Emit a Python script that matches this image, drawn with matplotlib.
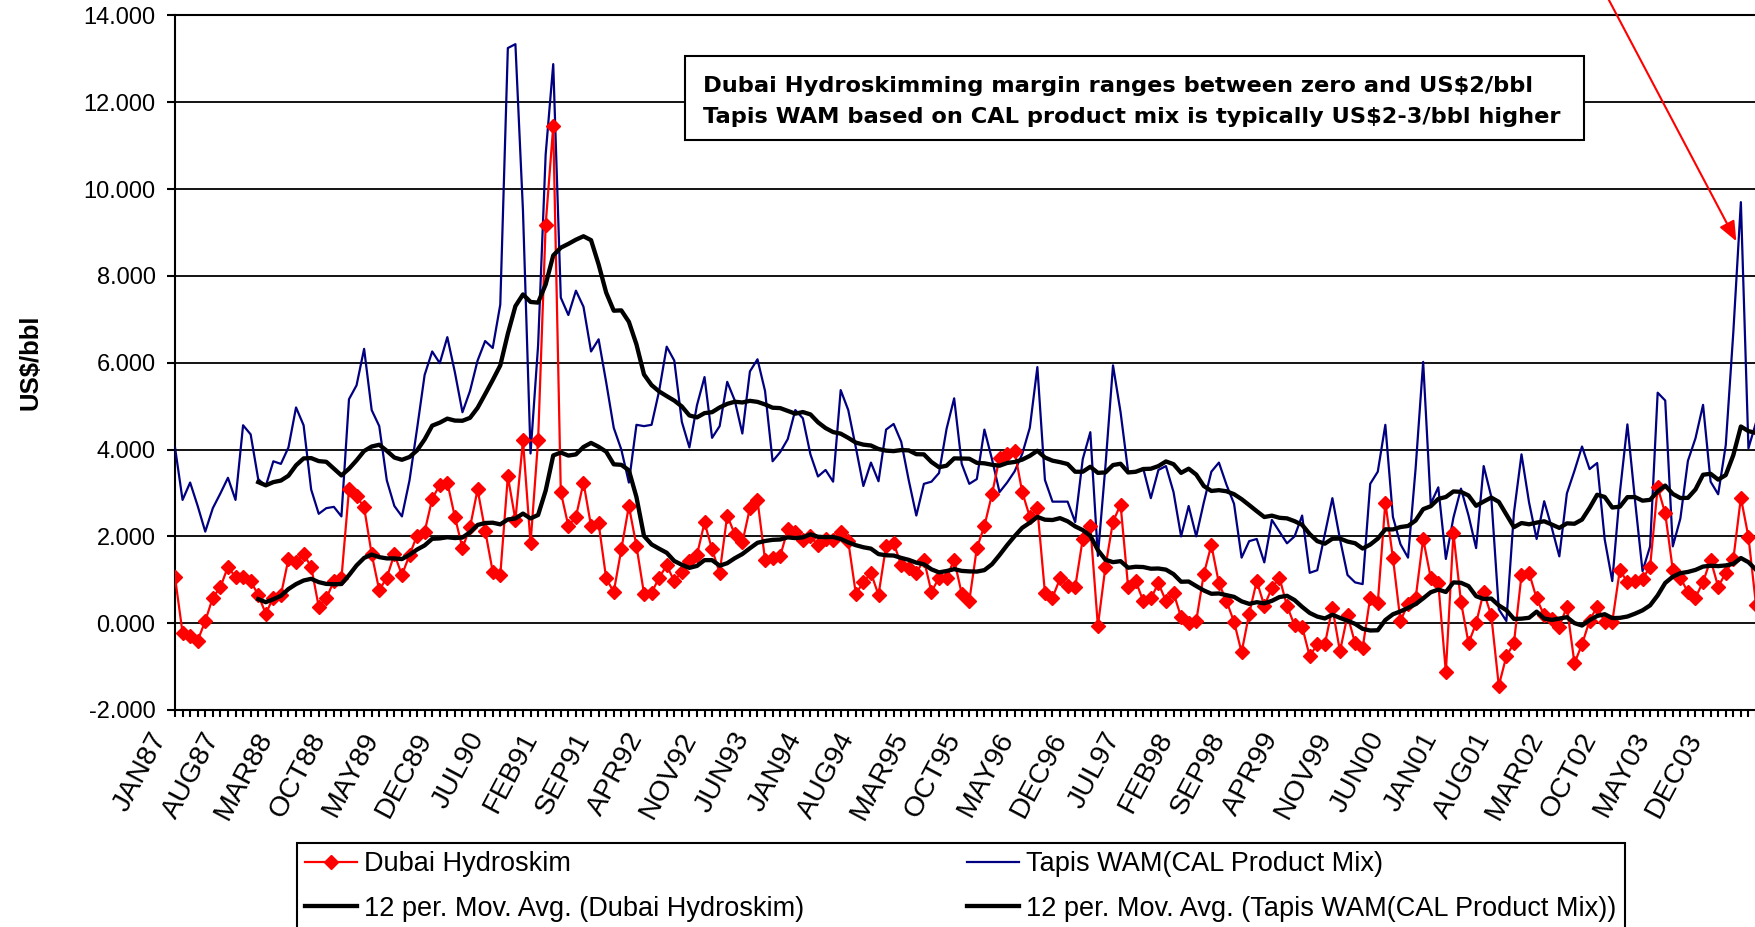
import numpy as np
import pandas as pd
import matplotlib.pyplot as plt
from matplotlib.patches import Rectangle
from matplotlib.ticker import FormatStrFormatter
from matplotlib.transforms import ScaledTranslation

plt.rcParams['font.family'] = ['Liberation Sans', 'DejaVu Sans']

# monthly margins, US$/bbl, starting JAN87
dubai = [1.06, -0.22, -0.30, -0.40, 0.05, 0.59, 0.83, 1.30, 1.06, 1.06,
         0.97, 0.65, 0.22, 0.59, 0.65, 1.48, 1.40, 1.59, 1.30, 0.38,
         0.57, 0.97, 1.03, 3.08, 2.92, 2.67, 1.59, 0.76, 1.05, 1.59,
         1.11, 1.57, 2.02, 2.11, 2.86, 3.19, 3.24, 2.45, 1.73, 2.21,
         3.08, 2.13, 1.19, 1.11, 3.38, 2.38, 4.21, 1.84, 4.21, 9.18,
         11.45, 3.02, 2.24, 2.45, 3.24, 2.24, 2.30, 1.03, 0.72, 1.70,
         2.70, 1.78, 0.68, 0.70, 1.05, 1.33, 0.97, 1.19, 1.44, 1.57,
         2.32, 1.70, 1.16, 2.48, 2.05, 1.86, 2.65, 2.84, 1.46, 1.51,
         1.54, 2.16, 2.11, 1.91, 2.00, 1.80, 1.94, 1.91, 2.11, 1.89,
         0.68, 0.94, 1.16, 0.65, 1.78, 1.84, 1.35, 1.26, 1.16, 1.46,
         0.72, 1.05, 1.05, 1.46, 0.68, 0.51, 1.73, 2.24, 2.97, 3.81,
         3.89, 3.96, 3.02, 2.45, 2.65, 0.70, 0.59, 1.03, 0.86, 0.83,
         1.94, 2.24, -0.06, 1.30, 2.34, 2.73, 0.83, 0.97, 0.51, 0.57,
         0.92, 0.51, 0.70, 0.14, 0.00, 0.05, 1.13, 1.80, 0.92, 0.51,
         0.03, -0.67, 0.22, 0.97, 0.40, 0.81, 1.05, 0.40, -0.05, -0.08,
         -0.76, -0.49, -0.49, 0.36, -0.65, 0.18, -0.46, -0.57, 0.59, 0.46,
         2.78, 1.51, 0.05, 0.45, 0.57, 1.94, 1.05, 0.92, -1.13, 2.08,
         0.49, -0.46, 0.00, 0.72, 0.18, -1.44, -0.76, -0.46, 1.11, 1.16,
         0.57, 0.18, 0.10, -0.08, 0.38, -0.92, -0.49, 0.06, 0.38, 0.03,
         0.03, 1.23, 0.94, 0.97, 1.02, 1.30, 3.13, 2.53, 1.23, 1.05,
         0.71, 0.59, 0.95, 1.46, 0.84, 1.16, 1.47, 2.89, 1.99, 0.42]

tapis = [4.05, 2.84, 3.24, 2.70, 2.11, 2.65, 2.99, 3.35, 2.84, 4.56,
         4.35, 3.32, 3.16, 3.73, 3.67, 4.05, 4.97, 4.56, 3.08, 2.52,
         2.65, 2.68, 2.46, 5.16, 5.48, 6.32, 4.91, 4.54, 3.29, 2.70,
         2.46, 3.29, 4.48, 5.72, 6.26, 5.99, 6.59, 5.78, 4.86, 5.35,
         6.05, 6.50, 6.34, 7.34, 13.25, 13.34, 9.50, 3.91, 6.40, 10.80,
         12.88, 7.50, 7.10, 7.66, 7.29, 6.26, 6.54, 5.55, 4.50, 4.00,
         3.24, 4.57, 4.54, 4.57, 5.35, 6.37, 6.05, 4.64, 4.05, 5.02,
         5.67, 4.27, 4.54, 5.56, 5.13, 4.37, 5.80, 6.08, 5.35, 3.73,
         3.94, 4.24, 4.91, 4.72, 3.89, 3.38, 3.53, 3.26, 5.37, 4.91,
         4.05, 3.16, 3.70, 3.27, 4.46, 4.59, 4.18, 3.29, 2.48, 3.21,
         3.26, 3.46, 4.48, 5.18, 3.67, 3.21, 3.32, 4.46, 3.78, 3.02,
         3.24, 3.50, 3.90, 4.50, 5.90, 3.30, 2.80, 2.80, 2.80, 2.33,
         3.78, 4.40, 1.55, 3.62, 5.94, 4.86, 3.49, 3.49, 3.56, 2.88,
         3.53, 3.62, 3.02, 2.00, 2.70, 2.00, 2.78, 3.49, 3.70, 3.19,
         2.75, 1.51, 1.89, 1.94, 1.40, 2.38, 2.11, 1.84, 2.00, 2.48,
         1.16, 1.22, 2.05, 2.88, 1.94, 1.11, 0.94, 0.90, 3.21, 3.49,
         4.57, 2.45, 1.82, 1.51, 3.56, 6.02, 2.75, 3.13, 1.48, 2.43,
         3.10, 2.48, 1.73, 3.62, 2.92, 0.32, 0.05, 2.54, 3.89, 2.78,
         1.94, 2.81, 2.20, 1.54, 2.99, 3.51, 4.07, 3.55, 3.69, 1.93,
         0.97, 3.00, 4.58, 2.84, 1.20, 1.77, 5.31, 5.13, 1.77, 2.41,
         3.74, 4.26, 5.03, 3.26, 2.97, 4.10, 6.70, 9.70, 4.03, 4.62]

tick_labels = ['JAN87', 'AUG87', 'MAR88', 'OCT88', 'MAY89', 'DEC89', 'JUL90',
               'FEB91', 'SEP91', 'APR92', 'NOV92', 'JUN93', 'JAN94', 'AUG94',
               'MAR95', 'OCT95', 'MAY96', 'DEC96', 'JUL97', 'FEB98', 'SEP98',
               'APR99', 'NOV99', 'JUN00', 'JAN01', 'AUG01', 'MAR02', 'OCT02',
               'MAY03', 'DEC03']
label_step = 7

months = np.arange(len(dubai))
dubai_ma = pd.Series(dubai).rolling(12).mean()
tapis_ma = pd.Series(tapis).rolling(12).mean()

W, H = 1756, 927
fig = plt.figure(figsize=(W / 100, H / 100), dpi=100)
ax = fig.add_axes([175 / W, 1 - 710 / H, 1 - 175 / W, (710 - 15.5) / H])

l_tapis, = ax.plot(months, tapis, color='#000080', lw=1.6, zorder=3)
l_dubai, = ax.plot(months, dubai, color='red', lw=1.6, marker='D', ms=7.2, zorder=4)
l_dma, = ax.plot(months, dubai_ma, color='black', lw=3.1, zorder=5)
l_tma, = ax.plot(months, tapis_ma, color='black', lw=3.1, zorder=5)

ax.set_xlim(0, (W - 175) / 7.571)
ax.set_ylim(-2, 14)
ax.set_yticks(range(-2, 15, 2))
ax.yaxis.set_major_formatter(FormatStrFormatter('%.3f'))
ax.grid(axis='y', color='black', lw=1.3)
ax.set_axisbelow(True)

ax.set_xticks(months)
ax.set_xticklabels([])
ax.tick_params(axis='x', direction='out', length=5, width=1.5)
ax.tick_params(axis='y', direction='out', length=6, width=1.5, labelsize=17, pad=8)

# month labels every 7 months, set a little left of their tick like the original
label_shift = ScaledTranslation(-26 / 100, -18 / 100, fig.dpi_scale_trans)
for k, name in enumerate(tick_labels):
    ax.text(k * label_step, 0, name, transform=ax.get_xaxis_transform() + label_shift,
            rotation=62, ha='right', va='top', rotation_mode='anchor', fontsize=20.5,
            clip_on=False)

for s in ['left', 'bottom', 'top']:
    ax.spines[s].set_linewidth(1.5)
ax.spines['right'].set_visible(False)

fig.text(31 / W, 1 - 362 / H, 'US$/bbl', rotation=90, fontsize=18.5,
         fontweight='bold', ha='center', va='center')

# note box
fig.add_artist(Rectangle((685 / W, 1 - 140 / H), 899 / W, 84 / H, transform=fig.transFigure,
                         facecolor='white', edgecolor='black', lw=1.5, zorder=10))
fig.text(703 / W, 1 - 86 / H, 'Dubai Hydroskimming margin ranges between zero and US$2/bbl',
         fontsize=16.2, fontweight='bold', family='DejaVu Sans', va='center', zorder=11)
fig.text(703 / W, 1 - 117 / H, 'Tapis WAM based on CAL product mix is typically US$2-3/bbl higher',
         fontsize=16.2, fontweight='bold', family='DejaVu Sans', va='center', zorder=11)

ax.annotate('', xy=(206.4, 8.8), xytext=(1603 / W, 1.012), textcoords='figure fraction',
            arrowprops=dict(arrowstyle='-|>,head_length=1.2,head_width=0.5', color='red',
                            lw=1.5, shrinkA=0, shrinkB=0),
            annotation_clip=False, zorder=12)

leg = fig.legend([l_dubai, l_dma, l_tapis, l_tma],
                 ['Dubai Hydroskim', '12 per. Mov. Avg. (Dubai Hydroskim)',
                  'Tapis WAM(CAL Product Mix)', '12 per. Mov. Avg. (Tapis WAM(CAL Product Mix))'],
                 loc='upper left', bbox_to_anchor=(297 / W, 1 - 843 / H), borderaxespad=0,
                 ncol=2, fontsize=19.5, fancybox=False, edgecolor='black', framealpha=1,
                 borderpad=0.3, handlelength=1.9, handletextpad=0.29, columnspacing=6.0,
                 labelspacing=0.68, numpoints=1)
leg.get_frame().set_linewidth(1.5)

fig.savefig('out.png', dpi=100)
